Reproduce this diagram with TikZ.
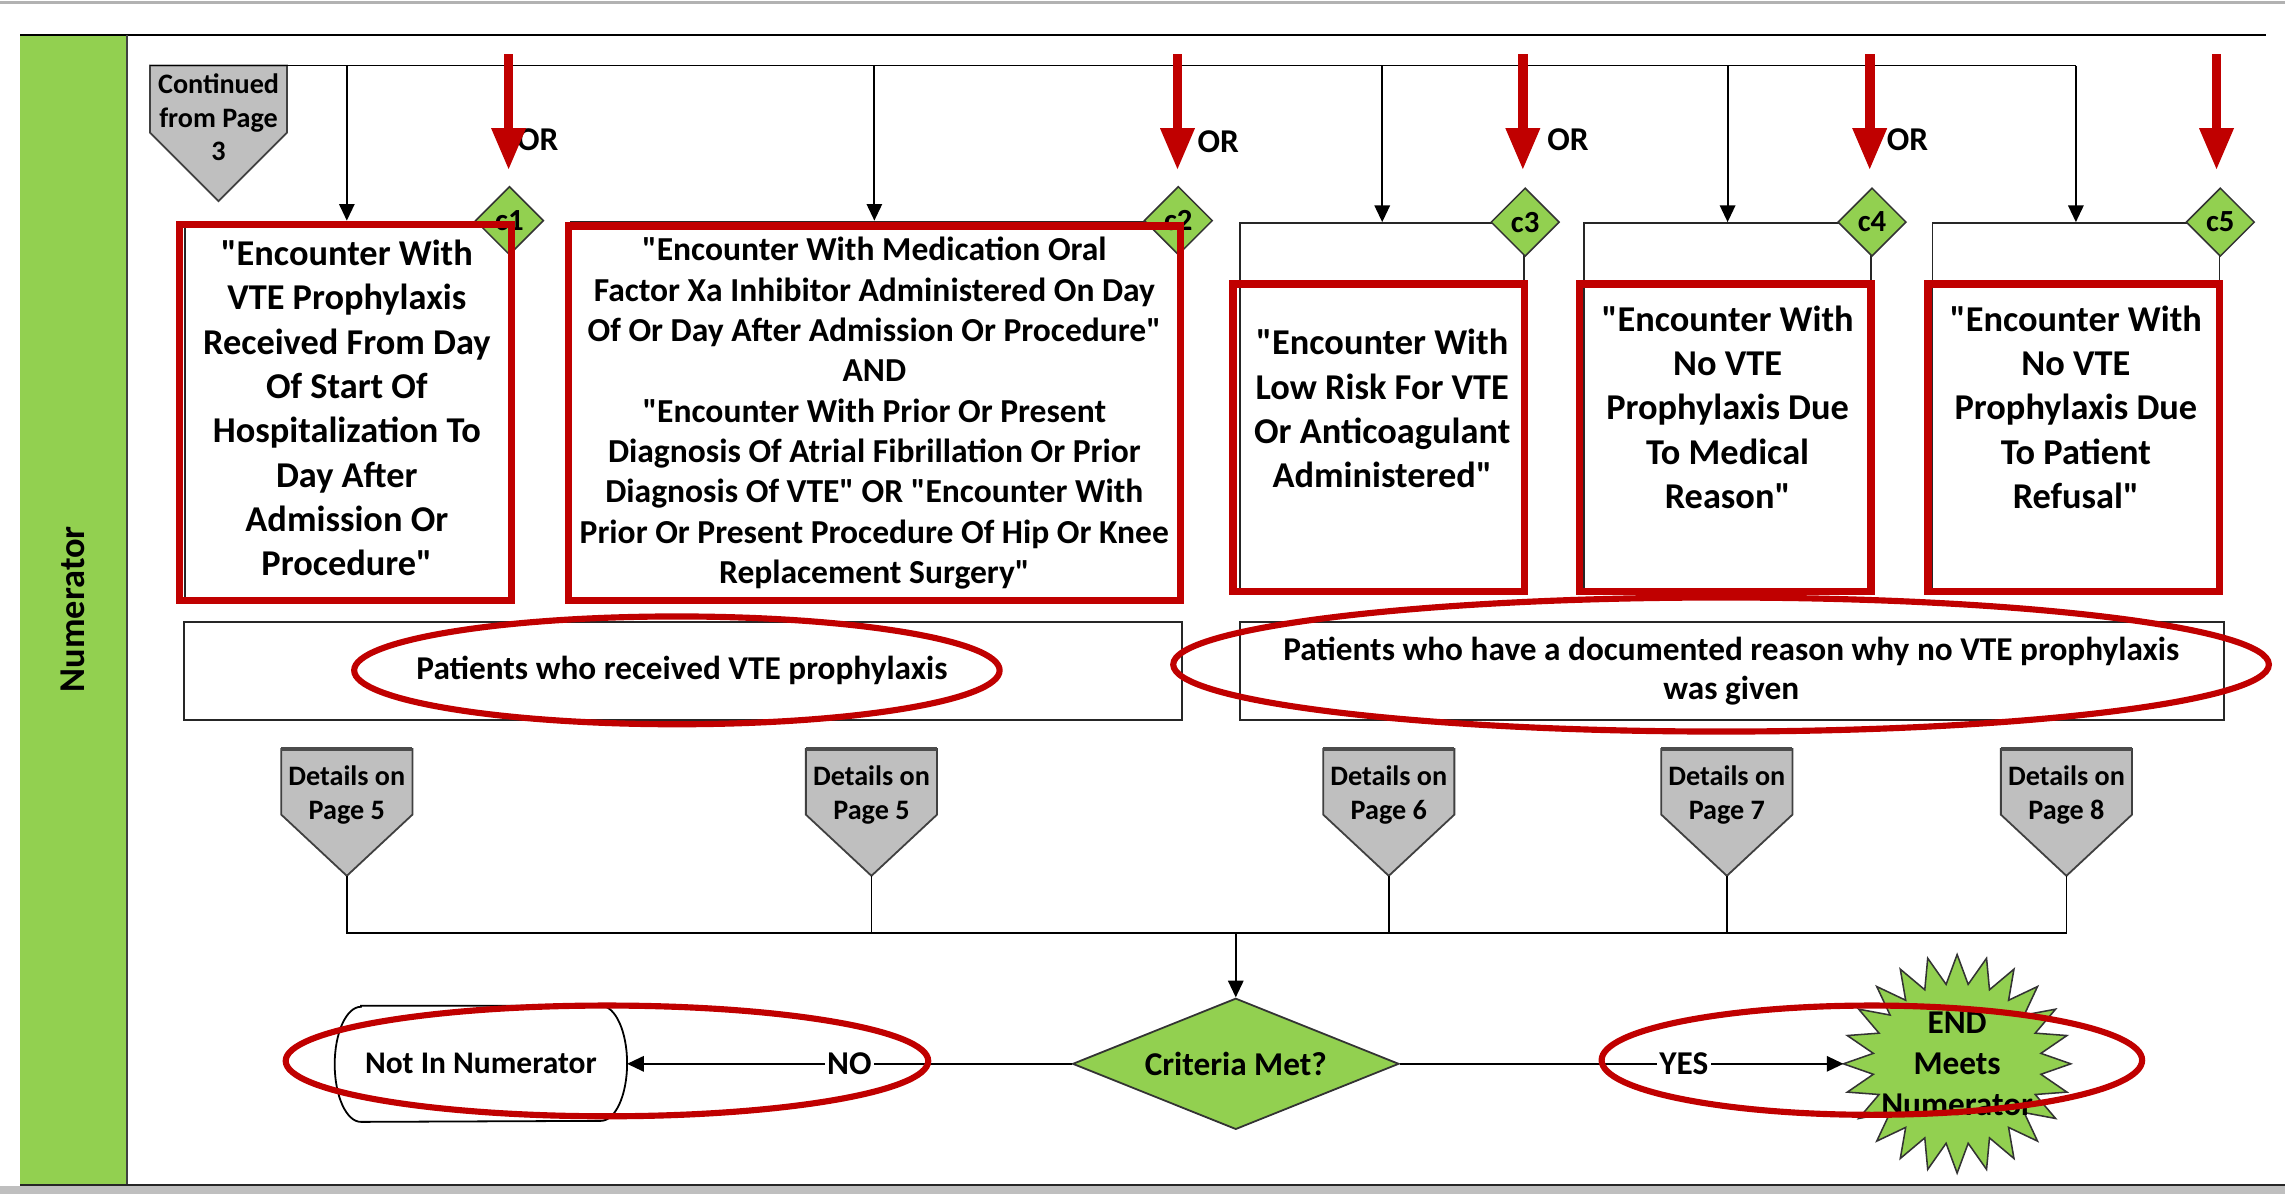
\documentclass[tikz,border=0pt]{standalone}
\usepackage{fontspec}
\setmainfont{Carlito}[Ligatures=TeXOff]
\usetikzlibrary{arrows.meta,shapes.geometric,calc}
\definecolor{lgreen}{HTML}{92D050}
\definecolor{dred}{HTML}{C00000}
\definecolor{pgray}{HTML}{BFBFBF}
\tikzset{
  bx/.style={draw=black!85, line width=0.7pt, inner sep=0pt},
  ln/.style={draw=black, line width=0.7pt},
  arr/.style={draw=black, line width=0.7pt, -{Triangle[length=6.5pt,width=6pt]}},
  cdiam/.style={diamond, draw=black!80, fill=lgreen, line width=0.6pt, minimum width=0.94cm, minimum height=0.94cm, inner sep=0pt, font=\bfseries\fontsize{12}{14}\selectfont},
  tA/.style={align=center, inner sep=0pt, font=\bfseries\fontsize{14.2}{17.3}\selectfont},
  tB/.style={align=center, inner sep=0pt, font=\bfseries\fontsize{13.1}{15.75}\selectfont},
  tC/.style={align=center, inner sep=0pt, font=\bfseries\fontsize{13}{15.4}\selectfont},
  tD/.style={align=center, inner sep=0pt, font=\bfseries\fontsize{11}{13.2}\selectfont},
  tE/.style={align=center, inner sep=0pt, font=\bfseries\fontsize{12.3}{14}\selectfont},
  redbox/.style={draw=dred, line width=2.9pt},
  redell/.style={draw=dred, line width=2.4pt},
  pent/.style={fill=pgray, draw=black!75, line width=0.7pt},
  lab/.style={fill=white, inner sep=1pt, font=\bfseries\fontsize{13}{15}\selectfont},
}
\begin{document}
\begin{tikzpicture}[x=0.02cm,y=-0.02cm]
\useasboundingbox (0,0) rectangle (1568,819);
\fill[white] (0,0) rectangle (1568,819);
% page edges
\fill[black!30] (0,0.5) rectangle (1568,3);
\fill[black!25] (0,814) rectangle (1568,819);
% swimlane
\fill[lgreen] (14,24) rectangle (87,813);
\draw[line width=0.9pt] (14,24) -- (1555,24);
\draw[line width=0.9pt, black!75] (87,24) -- (87,813);
\draw[line width=1pt, black!85] (14,813) -- (1568,813);
\node[rotate=90, font=\bfseries\fontsize{14.2}{17}\selectfont] (lane) at (50,418) {Numerator};

% continued pentagon
\draw[pent] (103,45) -- (197,45) -- (197,91) -- (150,138) -- (103,91) -- cycle;
\node[tD] (cont) at (150,80.5) {Continued\\from Page\\3};

% criteria boxes
\node[bx, minimum width=4.44cm, minimum height=5.16cm] (b1) at (238,281) {};
\node[bx, minimum width=8.32cm, minimum height=5.16cm] (b2) at (600,281) {};
\node[bx, minimum width=3.90cm, minimum height=5.04cm] (b3) at (948.5,279) {};
\node[bx, minimum width=3.94cm, minimum height=5.04cm] (b4) at (1185.5,279) {};
\node[bx, minimum width=3.94cm, minimum height=5.04cm] (b5) at (1424.5,279) {};

\node[tA] (b1t) at (238,280) {"Encounter With\\VTE Prophylaxis\\Received From Day\\Of Start Of\\Hospitalization To\\Day After\\Admission Or\\Procedure"};
\node[tB] (b2t) at (600,283.5) {"Encounter With Medication Oral\\Factor Xa Inhibitor Administered On Day\\Of Or Day After Admission Or Procedure"\\AND\\"Encounter With Prior Or Present\\Diagnosis Of Atrial Fibrillation Or Prior\\Diagnosis Of VTE" OR "Encounter With\\Prior Or Present Procedure Of Hip Or Knee\\Replacement Surgery"};
\node[tA] (b3t) at (948.5,280.5) {"Encounter With\\Low Risk For VTE\\Or Anticoagulant\\Administered"};
\node[tA] (b4t) at (1185.5,279.5) {"Encounter With\\No VTE\\Prophylaxis Due\\To Medical\\Reason"};
\node[tA] (b5t) at (1424.5,279.5) {"Encounter With\\No VTE\\Prophylaxis Due\\To Patient\\Refusal"};

% distribution line and arrows
\coordinate (top0) at (103,45);
\coordinate (top1) at (238,45);
\coordinate (top2) at (600,45);
\coordinate (top3) at (948.5,45);
\coordinate (top4) at (1185.5,45);
\coordinate (top5) at (1424.5,45);
\draw[ln] (top0) -- (top5);
\draw[arr] (top1) -- (b1.north);
\draw[arr] (top2) -- (b2.north);
\draw[arr] (top3) -- (b3.north);
\draw[arr] (top4) -- (b4.north);
\draw[arr] (top5) -- (b5.north);

% OR labels
\node[font=\bfseries\fontsize{13}{15}\selectfont] (or1) at (369,96) {OR};
\node[font=\bfseries\fontsize{13}{15}\selectfont] (or2) at (836,97) {OR};
\node[font=\bfseries\fontsize{13}{15}\selectfont] (or3) at (1076,96) {OR};
\node[font=\bfseries\fontsize{13}{15}\selectfont] (or4) at (1309,96) {OR};

% connector diamonds
\node[cdiam] (c1) at (b1.north east) {c1};
\node[cdiam] (c2) at (b2.north east) {c2};
\node[cdiam] (c3) at (b3.north east) {c3};
\node[cdiam] (c4) at (b4.north east) {c4};
\node[cdiam] (c5) at (b5.north east) {c5};

% group boxes
\node[bx, minimum width=13.7cm, minimum height=1.34cm] (g1) at (468.5,460.5) {};
\node[bx, minimum width=13.5cm, minimum height=1.34cm] (g2) at (1188.5,460.5) {};
\node[tC] (g1t) at (468,460) {Patients who received VTE prophylaxis};
\node[tC] (g2t) at (1188,460.5) {Patients who have a documented reason why no VTE prophylaxis\\was given};

% detail pentagons
\foreach \n/\x/\p in {1/238/5,2/598/5,3/953/6,4/1185/7,5/1418/8}{
  \draw[pent] ({\x-45},514) -- ({\x+45},514) -- ({\x+45},559) -- (\x,601) -- ({\x-45},559) -- cycle;
  \draw[line width=1.6pt, black!70] ({\x-45},514) -- ({\x+45},514);
  \node[tD] (d\n) at (\x,545.5) {Details on\\Page \p};
  \coordinate (p\n) at (\x,601);
}
\coordinate (bus) at (848,640);
\draw[ln] (p1) -- (p1 |- bus) -- (p5 |- bus) -- (p5);
\draw[ln] (p2) -- (p2 |- bus);
\draw[ln] (p3) -- (p3 |- bus);
\draw[ln] (p4) -- (p4 |- bus);

% decision
\node[diamond, aspect=2.49, draw=black!80, fill=lgreen, line width=0.7pt, minimum width=4.48cm, minimum height=1.8cm, inner sep=0pt, font=\bfseries\fontsize{13}{15}\selectfont] (crit) at (848,730) {Criteria Met?};
\draw[arr] (bus) -- (crit.north);

% terminator
\node[minimum width=4cm, minimum height=1.58cm, inner sep=0pt] (notin) at (330,730) {};
\draw[ln, fill=white] ($(notin.north west)+(18,0)$) -- ($(notin.north east)+(-18,0)$) arc[start angle=90, end angle=-90, x radius=0.36cm, y radius=0.79cm] -- ($(notin.south west)+(18,0)$) arc[start angle=270, end angle=90, x radius=0.36cm, y radius=0.79cm] -- cycle;
\node[tE] (notint) at (notin) {Not In Numerator};

% end starburst
\draw[fill=lgreen, draw=black!80, line width=0.6pt] (1421,730) \foreach \i in {1,...,47}{ -- ({1343+(68+10*cos(180*\i))*cos(7.5*\i)},{730+(65+10*cos(180*\i))*sin(7.5*\i)}) } -- cycle;
\node[align=center, inner sep=0pt, font=\bfseries\fontsize{13}{16}\selectfont] (endn) at (1343,730) {END\\Meets\\Numerator};
\coordinate (endw) at (1265,730);

\draw[arr] (crit.west) -- node[lab] (nolab) {NO} (notin.east);
\draw[arr] (crit.east) -- node[lab, pos=0.64] (yeslab) {YES} (endw);

% red annotations
\draw[redbox] (123,154) rectangle (351,412);
\draw[redbox] (390,155) rectangle (810,412);
\draw[redbox] (846,195) rectangle (1046,406);
\draw[redbox] (1084,195) rectangle (1284,406);
\draw[redbox] (1323,195) rectangle (1523,406);
\draw[redell] (464.5,460) ellipse [x radius=4.43cm, y radius=0.74cm];
\draw[redell] (1181,456) ellipse [x radius=7.52cm, y radius=0.92cm];
\draw[redell] (416.5,728) ellipse [x radius=4.41cm, y radius=0.76cm];
\draw[redell] (1284.5,727.5) ellipse [x radius=3.71cm, y radius=0.75cm];
\foreach \x in {349,808,1045,1283,1521}{
  \fill[dred] ({\x-3.3},37) rectangle ({\x+3.3},90);
  \fill[dred] ({\x-12},88) -- ({\x+12},88) -- (\x,116) -- cycle;
}
\end{tikzpicture}
\end{document}
